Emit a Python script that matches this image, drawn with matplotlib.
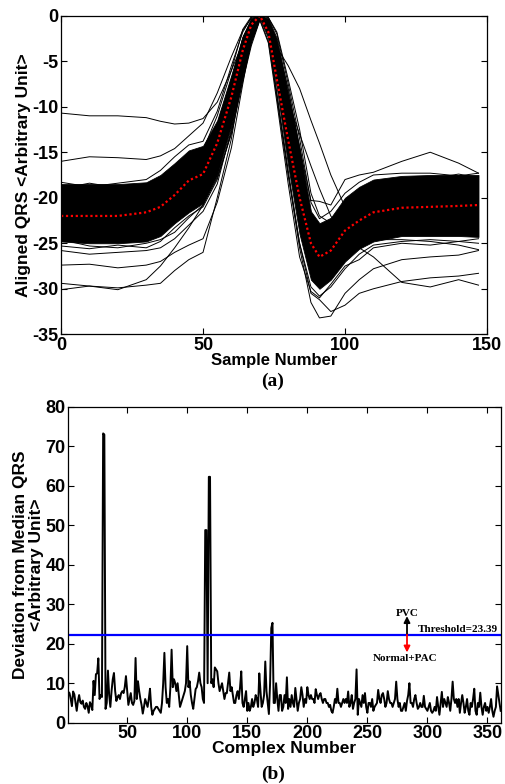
import numpy as np
import matplotlib
matplotlib.use("Agg")
import matplotlib.pyplot as plt

plt.rcParams["font.family"] = ["Liberation Sans", "DejaVu Sans"]
plt.rcParams["font.weight"] = "bold"
plt.rcParams["axes.unicode_minus"] = False

# ---- panel (a): aligned QRS complexes ----
samples = [0, 10, 20, 30, 35, 40, 45, 50, 55, 60, 64, 67, 70, 73, 76, 80, 84, 88,
           91, 95, 100, 105, 110, 120, 130, 140, 147]

median_qrs = [-22.0, -22.0, -22.0, -21.6, -21.0, -19.7, -18.1, -17.4, -14.0, -8.9, -3.8,
              -1.0, 0.0, -1.8, -7.0, -13.7, -20.0, -25.0, -26.5, -25.8, -23.6, -22.5,
              -21.6, -21.1, -21.0, -20.9, -20.8]

# envelope of the dense bundle of beats
band_upper = [-18.5, -18.5, -18.5, -18.3, -17.5, -16.2, -14.8, -14.3, -11.5, -6.5, -2.2,
              -0.3, 0.0, -0.3, -2.5, -8.5, -14.5, -21.5, -22.8, -22.2, -20.0, -18.8,
              -18.0, -17.6, -17.5, -17.5, -17.5]
band_lower = [-24.8, -25.0, -25.0, -24.8, -24.2, -22.8, -21.6, -20.6, -17.5, -12.0, -6.5,
              -2.8, -0.3, -2.5, -8.0, -16.5, -24.0, -29.0, -30.0, -29.0, -27.0, -25.6,
              -24.8, -24.2, -24.2, -24.2, -24.3]

# individual beats standing out of the bundle
beat_1 = [-10.7, -11.0, -11.0, -11.2, -11.6, -11.9, -11.8, -11.3, -9.5, -6.0, -3.0, -1.0,
          0.0, -0.5, -4.0, -11.0, -18.0, -23.0, -24.0, -23.0, -21.5, -20.5, -19.5, -19.0,
          -19.0, -19.0, -19.0]
beat_2 = [-16.0, -15.5, -15.6, -15.8, -15.4, -14.6, -13.2, -11.8, -8.5, -4.5, -1.6, -0.3,
          0.0, -0.6, -3.5, -10.0, -17.0, -22.5, -23.5, -22.5, -20.5, -19.5, -18.8, -18.5,
          -18.5, -18.3, -18.2]
beat_3 = [-27.4, -27.3, -27.7, -27.4, -27.0, -26.0, -25.2, -24.5, -20.5, -14.5, -7.5, -2.5,
          -0.2, -1.2, -5.0, -12.5, -20.0, -25.5, -27.0, -26.5, -24.8, -23.8, -23.0, -22.5,
          -22.5, -22.4, -22.3]
beat_4 = [-29.4, -29.7, -29.9, -29.6, -29.4, -28.0, -26.8, -26.0, -20.0, -13.5, -6.0, -1.8,
          -0.2, -1.5, -6.0, -14.0, -21.5, -27.0, -28.5, -27.5, -25.5, -24.5, -24.0, -23.6,
          -23.5, -23.5, -23.4]
beat_5 = [-30.1, -29.7, -30.1, -29.0, -27.5, -25.5, -23.3, -20.8, -16.0, -10.5, -4.5, -1.2,
          0.0, -1.0, -5.0, -12.0, -19.0, -24.5, -26.0, -25.0, -23.0, -22.0, -21.5, -21.0,
          -21.0, -21.0, -21.0]
beat_6 = [-25.8, -26.2, -26.0, -25.8, -25.5, -24.5, -23.0, -21.5, -18.5, -12.5, -6.5, -2.5,
          -0.2, -1.5, -6.5, -14.5, -22.0, -27.5, -29.0, -28.0, -26.0, -25.0, -24.6, -24.6,
          -24.8, -25.2, -25.7]
beat_7 = [-21.0, -21.0, -21.0, -20.5, -20.0, -18.5, -17.0, -16.0, -12.5, -7.5, -2.5, -0.5,
          0.0, -1.0, -3.5, -5.5, -8.0, -11.5, -14.0, -17.5, -21.0, -21.5, -21.0, -20.0,
          -19.5, -19.5, -19.5]
beat_8 = [-20.5, -20.5, -20.3, -20.0, -19.5, -18.0, -16.5, -15.5, -12.0, -7.0, -2.5, -0.5,
          0.0, -0.5, -3.0, -8.0, -14.5, -20.3, -20.4, -20.8, -18.0, -17.5, -17.2, -16.0,
          -15.0, -16.2, -17.3]
beat_9 = [-22.5, -22.5, -22.4, -22.0, -21.5, -20.0, -18.5, -17.5, -14.0, -9.0, -3.5, -1.0,
          0.0, -1.0, -4.5, -9.5, -13.0, -16.5, -19.0, -22.0, -24.5, -25.5, -26.5, -29.3,
          -29.8, -29.0, -29.6]
beat_10 = [-23.0, -23.0, -23.0, -22.5, -22.0, -20.5, -19.0, -18.0, -15.0, -10.0, -4.5, -1.5,
           0.0, -2.0, -9.0, -17.5, -25.5, -31.5, -33.2, -33.0, -30.5, -29.0, -27.8, -26.8,
           -26.5, -26.3, -25.8]
beat_11 = [-22.8, -22.8, -22.7, -22.3, -21.8, -20.3, -18.8, -17.8, -14.5, -9.5, -4.0, -1.2,
           0.0, -2.0, -8.5, -17.0, -25.0, -30.5, -31.2, -32.5, -31.8, -30.5, -30.0, -29.2,
           -28.8, -28.6, -28.3]
# beats along the ragged edges of the bundle
beat_12 = [-18.3, -18.8, -18.4, -18.0, -17.0, -15.5, -14.2, -13.8, -10.5, -5.5, -1.8, -0.2,
           0.0, -0.2, -2.0, -7.5, -13.5, -20.5, -22.3, -21.5, -19.5, -18.3, -17.5, -17.3,
           -17.3, -17.6, -17.3]
beat_13 = [-25.3, -25.6, -25.2, -25.5, -24.8, -23.3, -22.0, -21.0, -18.0, -12.8, -7.0, -3.0,
           -0.4, -2.8, -8.8, -17.5, -25.0, -29.8, -30.8, -29.8, -27.8, -26.2, -25.2, -24.8,
           -24.6, -24.8, -24.5]
beat_14 = [-24.6, -25.3, -25.5, -25.0, -24.6, -23.8, -22.2, -20.8, -17.8, -13.0, -7.2, -3.3,
           -0.5, -3.0, -9.5, -18.5, -26.5, -30.3, -31.0, -29.5, -27.5, -26.8, -25.5, -25.0,
           -25.2, -24.8, -25.0]
beat_15 = [-19.0, -18.4, -18.9, -18.5, -17.8, -16.5, -15.3, -14.8, -11.0, -6.0, -1.5, -0.1,
           0.0, -0.2, -1.8, -7.0, -12.5, -19.5, -22.0, -22.8, -20.5, -19.2, -18.3, -17.8,
           -17.9, -17.4, -17.8]
outlier_beats = [beat_1, beat_2, beat_3, beat_4, beat_5, beat_6, beat_7, beat_8, beat_9,
                 beat_10, beat_11, beat_12, beat_13, beat_14, beat_15]

# ---- panel (b): deviation from median QRS ----
deviation = [
    7.8, 7.5, 6.0, 4.2, 7.9, 7.2, 5.0, 3.0, 5.5, 7.0,
    5.2, 4.8, 5.6, 4.0, 3.5, 5.0, 4.2, 2.5, 5.2, 4.5,
    3.2, 10.6, 7.0, 12.3, 12.5, 16.3, 6.0, 7.0, 6.5, 73.3,
    73.0, 3.5, 5.0, 13.2, 7.0, 4.0, 8.0, 11.0, 12.6, 8.0,
    5.5, 6.5, 7.0, 6.0, 7.5, 8.0, 7.5, 9.0, 11.8, 8.0,
    4.5, 6.0, 7.5, 5.0, 4.5, 5.5, 16.4, 6.0, 10.5, 8.0,
    6.0, 4.5, 2.3, 4.0, 6.0, 5.0, 4.0, 6.0, 8.6, 4.0,
    2.0, 3.0, 3.5, 4.0, 4.0, 3.5, 3.0, 2.5, 5.0, 10.0,
    17.7, 9.0, 5.0, 6.0, 4.0, 9.0, 18.5, 9.0, 11.0, 10.0,
    8.0, 10.0, 7.0, 4.0, 5.0, 6.0, 7.0, 8.0, 10.0, 19.4,
    9.0, 10.5, 7.0, 5.0, 3.5, 6.0, 8.5, 9.0, 10.5, 12.7,
    10.0, 9.0, 6.0, 5.0, 48.8, 48.8, 10.0, 62.3, 62.3, 10.0,
    11.0, 9.0, 14.0, 13.5, 13.0, 10.0, 8.0, 9.0, 10.0, 8.0,
    6.0, 7.5, 7.5, 10.0, 12.7, 8.0, 9.0, 7.0, 5.0, 5.0,
    7.0, 8.0, 6.0, 9.0, 13.0, 5.0, 4.0, 6.0, 8.0, 3.0,
    5.0, 3.0, 4.0, 6.0, 4.0, 5.0, 7.0, 6.0, 4.0, 12.5,
    8.0, 4.0, 5.0, 7.0, 15.5, 8.0, 5.0, 2.2, 10.0, 24.0,
    25.3, 5.0, 5.0, 10.0, 6.0, 3.0, 7.0, 7.0, 3.0, 4.0,
    7.0, 5.0, 11.5, 3.5, 6.0, 4.0, 7.0, 5.0, 4.0, 8.8,
    6.0, 3.0, 5.0, 6.0, 9.0, 7.0, 4.0, 6.0, 5.0, 9.0,
    7.0, 6.0, 7.0, 6.0, 6.0, 5.0, 8.5, 7.0, 6.0, 7.0,
    7.5, 6.0, 5.0, 6.0, 6.0, 5.0, 5.0, 4.0, 4.5, 3.0,
    2.5, 4.0, 6.0, 5.0, 8.6, 5.0, 5.0, 4.0, 5.0, 6.0,
    5.0, 6.0, 5.0, 7.9, 4.0, 5.0, 7.0, 3.5, 5.0, 6.0,
    13.5, 2.0, 6.0, 5.0, 4.0, 7.0, 5.0, 7.5, 4.0, 2.5,
    5.0, 5.0, 4.0, 6.0, 3.0, 4.0, 4.5, 5.0, 8.3, 6.0,
    5.0, 7.0, 7.5, 6.0, 4.0, 5.0, 8.0, 6.0, 5.0, 5.0,
    4.0, 5.0, 6.0, 10.4, 6.0, 4.0, 5.0, 3.0, 3.0, 4.0,
    5.0, 3.0, 5.5, 7.0, 10.0, 5.0, 5.0, 4.0, 6.0, 7.0,
    5.0, 3.5, 4.0, 5.0, 4.0, 4.0, 6.8, 4.0, 3.5, 3.0,
    4.0, 5.0, 3.0, 2.5, 3.0, 4.0, 3.0, 6.5, 4.0, 2.0,
    5.0, 7.8, 4.0, 6.0, 5.0, 4.0, 6.5, 5.0, 3.0, 6.0,
    10.4, 6.0, 5.0, 6.0, 4.0, 6.0, 2.5, 5.0, 7.0, 5.0,
    2.5, 4.0, 6.0, 3.0, 2.0, 5.0, 4.0, 6.0, 8.6, 3.0,
    2.0, 5.0, 4.0, 7.6, 4.0, 2.0, 4.0, 5.0, 3.0, 4.0,
    2.5, 4.0, 6.0, 3.0, 1.5, 3.0, 4.0, 9.2, 7.0, 5.0, 3.0,
]
complex_number = np.arange(1, len(deviation) + 1)
threshold_line = 22.3
threshold_label = "Threshold=23.39"

serif = ["Liberation Serif", "DejaVu Serif"]
fig = plt.figure(figsize=(5.06, 7.84), dpi=100)

# panel (a)
ax1 = fig.add_axes([0.1206, 0.5736, 0.8419, 0.4064])
ax1.fill_between(samples, band_lower, band_upper, color="black", lw=0.6)
for beat in outlier_beats:
    ax1.plot(samples, beat, color="black", lw=0.7)
ax1.plot(samples, median_qrs, color="red", lw=1.6, linestyle=(0, (1, 1.2)))
ax1.set_xlim(0, 150)
ax1.set_ylim(-35, 0)
ax1.set_xticks([0, 50, 100, 150])
ax1.set_yticks(range(-35, 1, 5))
ax1.set_xlabel("Sample Number", fontsize=12, fontweight="bold", labelpad=-1)
ax1.set_ylabel("Aligned QRS <Arbitrary Unit>", fontsize=12.5, fontweight="bold",
               labelpad=1)
fig.text(0.538, 0.514, "(a)", ha="center", va="center", fontsize=14, fontweight="bold",
         family=serif)

# panel (b)
ax2 = fig.add_axes([0.135, 0.0782, 0.8545, 0.4027])
ax2.plot(complex_number, deviation, color="black", lw=1.4)
ax2.axhline(threshold_line, color="#0000ff", lw=1.6)
ax2.annotate("", xy=(283, 27.0), xytext=(283, threshold_line),
             arrowprops=dict(arrowstyle="-|>", color="black", lw=1.3, mutation_scale=9,
                             shrinkA=0, shrinkB=0))
ax2.annotate("", xy=(283, 17.8), xytext=(283, threshold_line),
             arrowprops=dict(arrowstyle="-|>", color="red", lw=1.3, mutation_scale=9,
                             shrinkA=0, shrinkB=0))
ax2.text(283.5, 26.6, "PVC", ha="center", va="bottom", fontsize=8, fontweight="bold",
         family=serif)
ax2.text(325, 22.6, threshold_label, ha="center", va="bottom", fontsize=8,
         fontweight="bold", family=serif)
ax2.text(281.5, 16.2, "Normal+PAC", ha="center", va="center", fontsize=8,
         fontweight="bold", family=serif)
ax2.set_xlim(1, 361)
ax2.set_ylim(0, 80)
ax2.set_xticks(range(50, 351, 50))
ax2.set_yticks(range(0, 81, 10))
ax2.set_xlabel("Complex Number", fontsize=12.5, fontweight="bold", labelpad=-1)
ax2.set_ylabel("Deviation from Median QRS\n<Arbitrary Unit>", fontsize=12.5,
               fontweight="bold", labelpad=1, linespacing=1.1)
fig.text(0.54, 0.012, "(b)", ha="center", va="center", fontsize=14, fontweight="bold",
         family=serif)

for ax in (ax1, ax2):
    ax.tick_params(direction="in", top=True, right=True, length=4, width=0.8,
                   labelsize=13, pad=2)
    for lab in ax.get_xticklabels() + ax.get_yticklabels():
        lab.set_fontweight("bold")
    for sp in ax.spines.values():
        sp.set_linewidth(0.9)

fig.savefig("out.png", dpi=100)
